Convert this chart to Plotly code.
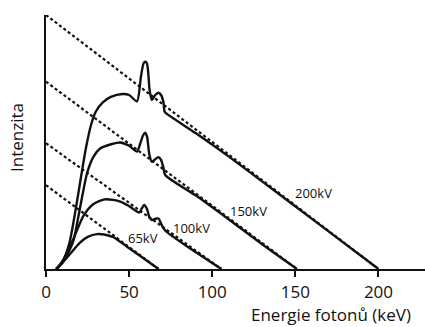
import plotly.graph_objects as go

# Kramers-law envelopes (unfiltered): start intensity at E=0 and cut-off energy
tube_labels = ["200kV", "150kV", "100kV", "65kV"]
kramers_start = [200, 147.5, 99, 66]
kramers_end = [200, 151, 105.5, 67.7]

# Filtered spectra with tungsten K lines (photon energy in keV, relative intensity)
e_200 = [6.2, 10, 14, 18, 21, 24, 27, 30, 34, 39, 46, 50, 54.7, 57.1, 58.7, 59.7,
         60.7, 61.7, 62.3, 63.7, 65.7, 67.7, 69.2, 70.7, 71.3, 72.3, 90, 110, 130, 160, 200]
i_200 = [0, 6, 20, 48, 72, 95, 113, 124, 131, 135.5, 137.8, 137, 132, 151.4, 162, 163.2,
         162, 151.4, 141, 133, 137, 138.8, 137, 131, 124, 122.6, 107, 88.5, 69, 39.5, 0]

e_150 = [6.2, 10, 13.5, 16.6, 20.6, 24.7, 28.6, 32.7, 39.7, 44.7, 50, 54.7, 56.5, 58.5,
         59.7, 60.8, 62.2, 63.7, 65.7, 67.7, 69.2, 70.6, 71.7, 90, 110, 130, 151]
i_150 = [0, 5, 13, 22.8, 49, 75.4, 88.4, 95, 98.4, 99.6, 97, 92.4, 98, 105.5,
         107.3, 104, 90, 84.5, 86.5, 88, 86, 80, 74, 58, 39, 19.5, 0]

e_100 = [6.8, 11.6, 16.6, 22.6, 28.4, 35.7, 44.7, 50, 56.1, 57.5, 59.1, 60.8, 62.3,
         63.7, 65.7, 67.7, 69.3, 71.7, 86.8, 105.5]
i_100 = [0, 10, 24, 42, 51, 54.9, 53.1, 49.5, 44.5, 47.5, 50.4, 47, 40.5,
         38.6, 39.5, 39.8, 35.4, 30.3, 16.1, 0]

e_65 = [5.9, 12.6, 20.6, 25.4, 30.7, 35, 40.6, 48.7, 56.7, 67.7]
i_65 = [0, 9, 21, 25.5, 27.5, 27.2, 25, 17.6, 10.2, 0]

# Label positions (keV, intensity)
label_e = [161, 121.9, 87.4, 58.5]
label_i = [60.2, 45.7, 32.3, 24.4]

INK = "#111111"
FONT = "Open Sans"

fig = go.Figure()

for start, end in zip(kramers_start, kramers_end):
    fig.add_trace(go.Scatter(
        x=[0, end], y=[start, 0], mode="lines",
        line=dict(color=INK, width=2.2, dash="3px,2.5px"),
        hoverinfo="skip", showlegend=False))

for ex, iy in [(e_200, i_200), (e_150, i_150), (e_100, i_100), (e_65, i_65)]:
    fig.add_trace(go.Scatter(
        x=ex, y=iy, mode="lines",
        line=dict(color=INK, width=2.4, shape="spline", smoothing=0.7),
        hoverinfo="skip", showlegend=False))

annotations = []
for txt, lx, ly in zip(tube_labels, label_e, label_i):
    annotations.append(dict(x=lx, y=ly, xref="x", yref="y", text=txt,
                            showarrow=False, font=dict(family=FONT, size=13, color=INK)))

annotations.append(dict(x=0.753, y=-0.181, xref="paper", yref="paper",
                        text="Energie fotonů (keV)", showarrow=False,
                        xanchor="center", yanchor="middle",
                        font=dict(family=FONT, size=17, color=INK)))
annotations.append(dict(x=-0.0765, y=0.516, xref="paper", yref="paper",
                        text="Intenzita", showarrow=False, textangle=-90,
                        xanchor="center", yanchor="middle",
                        font=dict(family=FONT, size=17, color=INK)))

fig.update_layout(
    width=425, height=327,
    margin=dict(l=46, r=0, t=15, b=58),
    paper_bgcolor="white", plot_bgcolor="white",
    annotations=annotations,
    xaxis=dict(range=[0, 228], showgrid=False, zeroline=False,
               showline=True, linewidth=2.2, linecolor=INK,
               ticks="outside", ticklen=6, tickwidth=1.8, tickcolor=INK,
               tickvals=[0, 50, 100, 150, 200],
               tickfont=dict(family=FONT, size=17, color=INK)),
    yaxis=dict(range=[0, 200], showgrid=False, zeroline=False,
               showline=True, linewidth=2.2, linecolor=INK,
               showticklabels=False, ticks=""),
)

fig.write_html("out.html")
